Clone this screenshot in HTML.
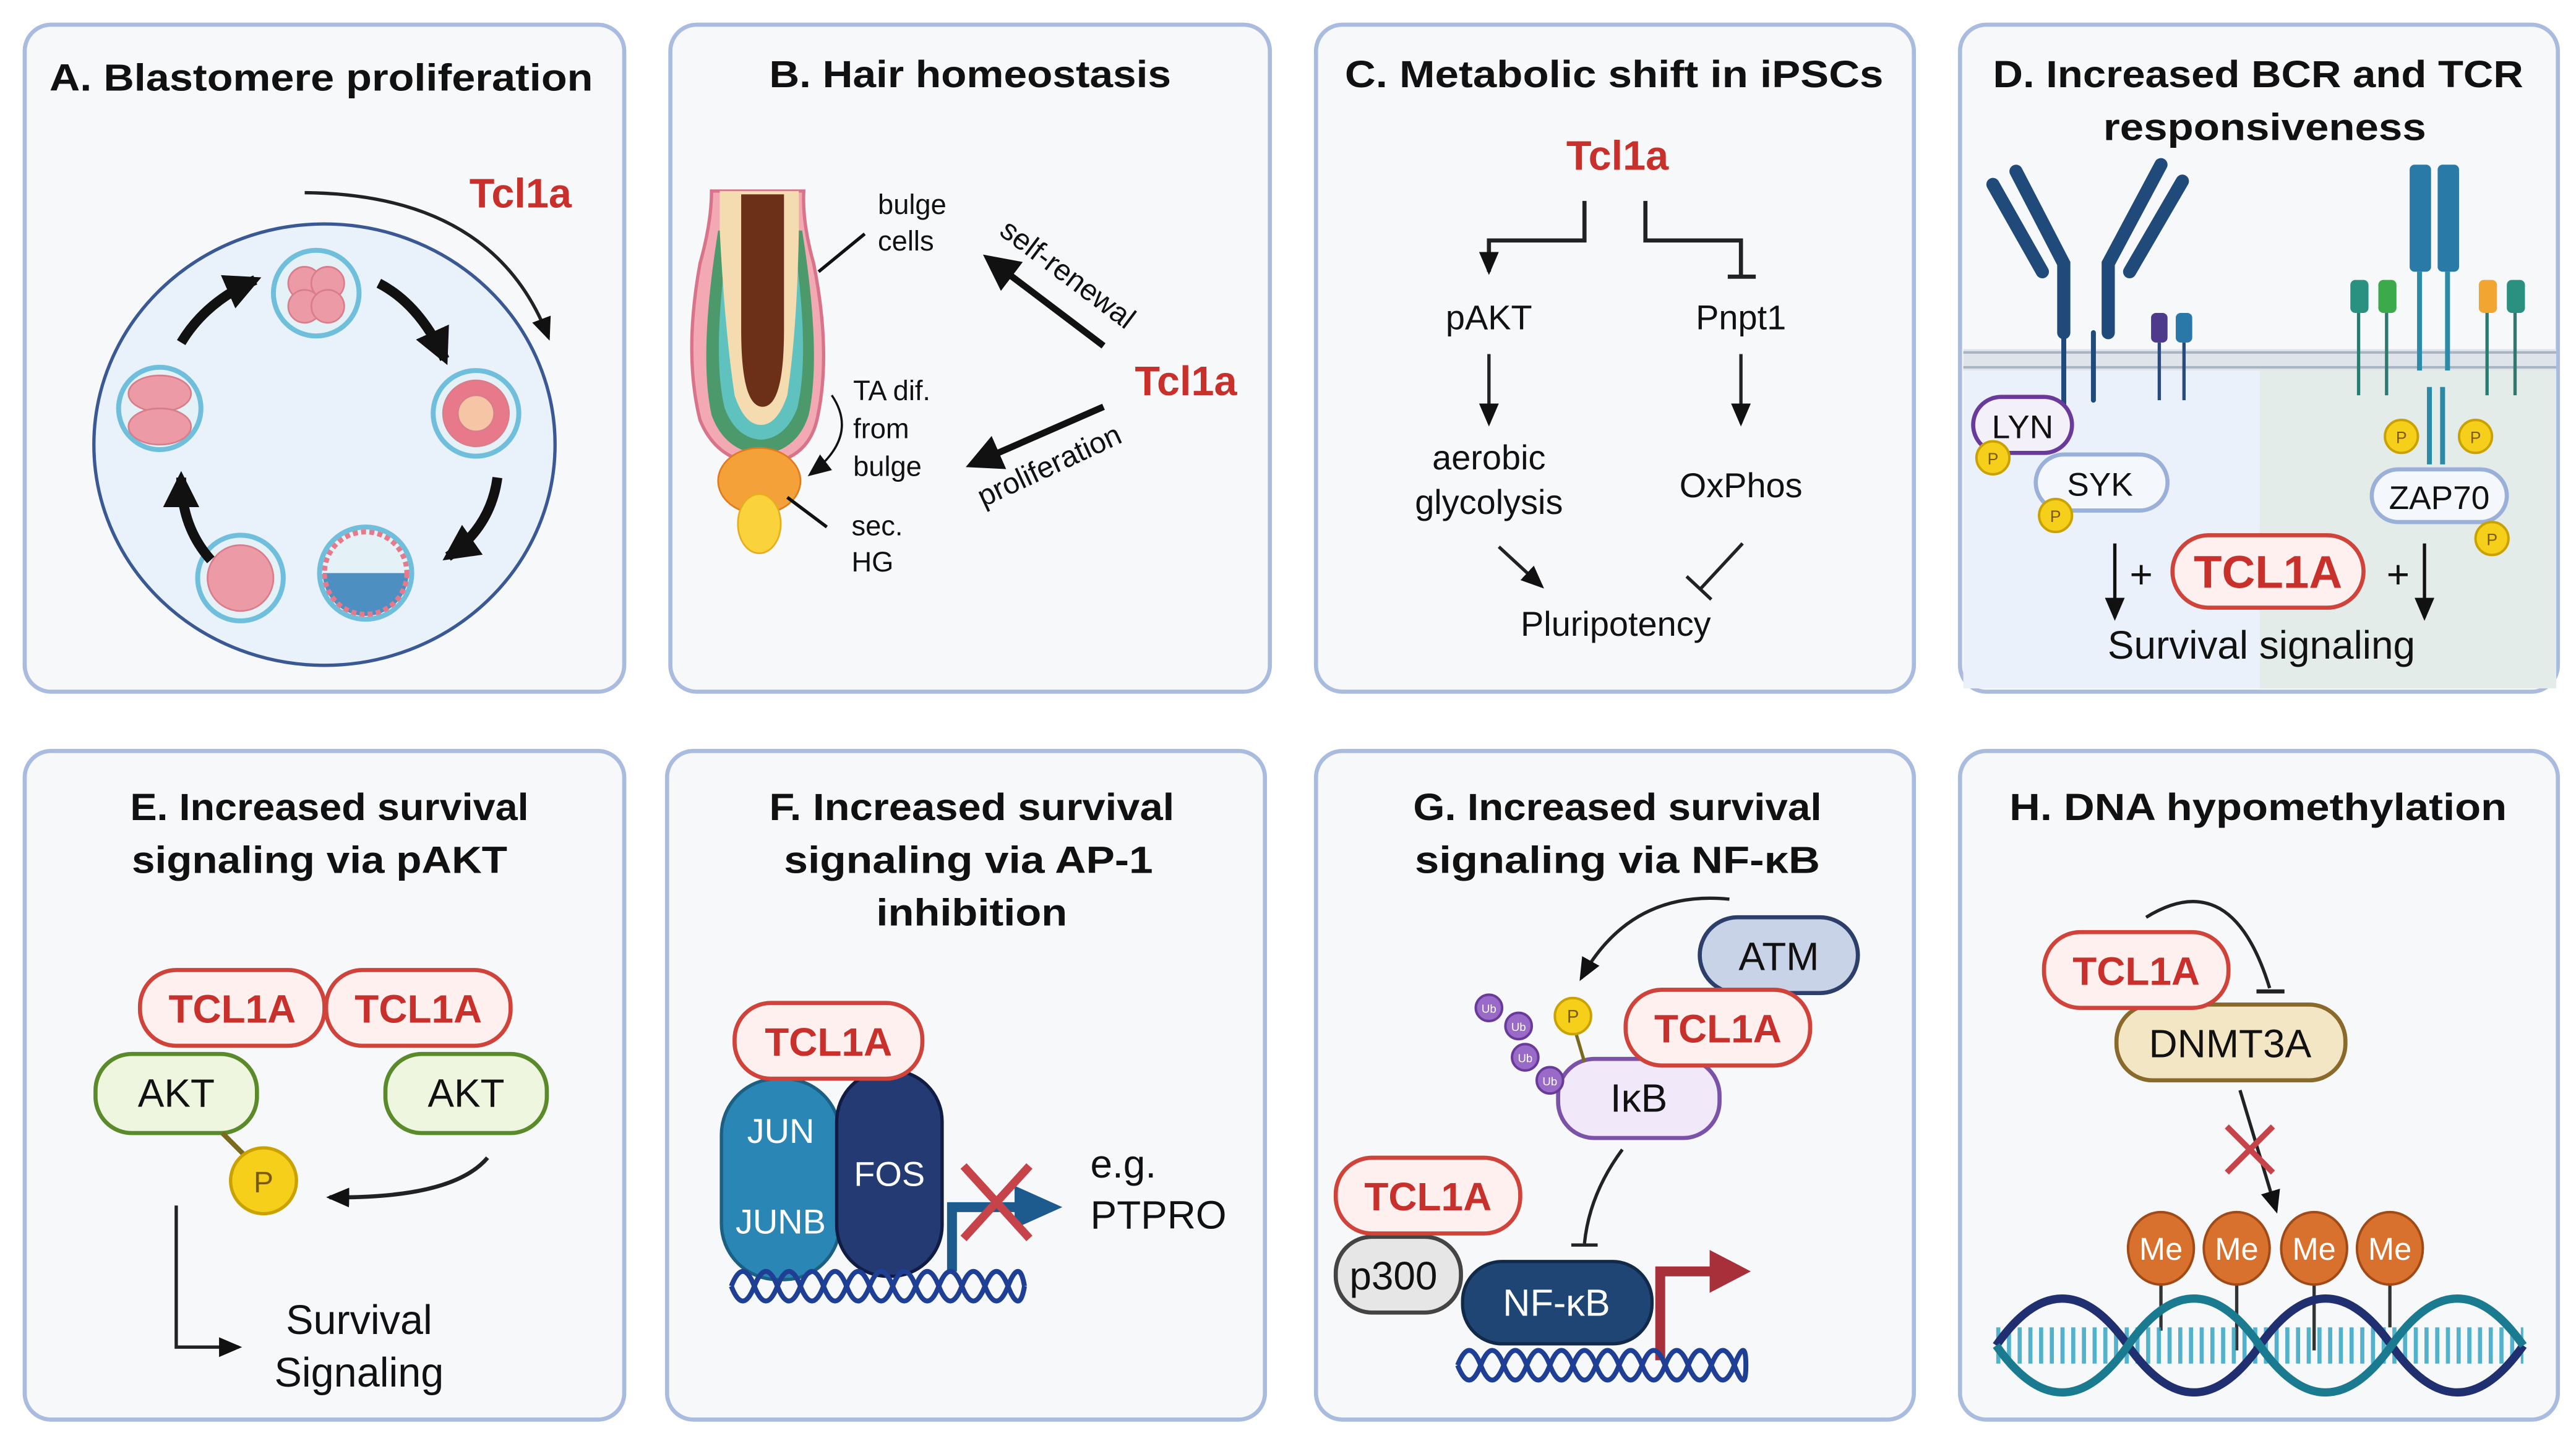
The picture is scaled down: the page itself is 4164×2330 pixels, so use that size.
<!DOCTYPE html>
<html><head><meta charset="utf-8"><style>
html,body{margin:0;padding:0;background:#fff}
svg{display:block}
text{font-family:"Liberation Sans",sans-serif}
.t{font-weight:bold;font-size:23px;fill:#111;text-anchor:middle}
.r{font-weight:bold;fill:#c8312b;text-anchor:middle}
.n{fill:#111;text-anchor:middle}
.w{fill:#fff;text-anchor:middle}
</style></head><body>
<svg width="4164" height="2330" viewBox="0 0 1564 875" preserveAspectRatio="none" font-size="20" xmlns="http://www.w3.org/2000/svg">
<defs>
<marker id="ah" markerUnits="userSpaceOnUse" markerWidth="16" markerHeight="16" refX="12" refY="8" orient="auto"><path d="M0,2 L14,8 L0,14 Z" fill="#111"/></marker>
<marker id="ahb" markerUnits="userSpaceOnUse" markerWidth="26" markerHeight="26" refX="18" refY="13" orient="auto"><path d="M0,2 L22,13 L0,24 Z" fill="#111"/></marker>
</defs>
<rect width="1564" height="875" fill="#fff"/>
<g fill="#f7f8fa" stroke="#a9bcdf" stroke-width="2.5">
<rect x="15" y="15" width="364" height="405" rx="16"/>
<rect x="407" y="15" width="364" height="405" rx="16"/>
<rect x="799" y="15" width="363" height="405" rx="16"/>
<rect x="1190" y="15" width="363" height="405" rx="16"/>
<rect x="15" y="456" width="364" height="406" rx="16"/>
<rect x="405" y="456" width="363" height="406" rx="16"/>
<rect x="799" y="456" width="363" height="406" rx="16"/>
<rect x="1190" y="456" width="363" height="406" rx="16"/>
</g>

<!-- A -->
<text class="t" x="195" y="55" textLength="330" lengthAdjust="spacingAndGlyphs">A. Blastomere proliferation</text>
<text class="r" x="316" y="126" font-size="25">Tcl1a</text>
<ellipse cx="197" cy="270" rx="140" ry="134" fill="#e9f1fb" stroke="#3a5894" stroke-width="2"/>
<path d="M185,117 Q300,118 333,205" fill="none" stroke="#222" stroke-width="2" marker-end="url(#ah)"/>
<g stroke="#6fbfdc" stroke-width="3" fill="#e4f2f8">
<circle cx="192" cy="178" r="26"/><circle cx="289" cy="251" r="26"/><circle cx="222" cy="348" r="28"/><circle cx="146" cy="351" r="26"/><circle cx="97" cy="248" r="25"/>
</g>
<g fill="#eb9aa6" stroke="#d97d8b" stroke-width="1">
<circle cx="185" cy="172" r="10"/><circle cx="199" cy="172" r="10"/><circle cx="185" cy="186" r="10"/><circle cx="199" cy="186" r="10"/>
<circle cx="289" cy="251" r="20" fill="#e8798b"/><circle cx="289" cy="251" r="11" fill="#f6c5a5"/>
<circle cx="146" cy="351" r="20"/>
<ellipse cx="97" cy="239" rx="19" ry="11"/><ellipse cx="97" cy="259" rx="19" ry="11"/>
</g>
<path d="M196,348 A26,26 0 0 0 248,348 Z" fill="#4d8fc0"/>
<circle cx="222" cy="348" r="25" fill="none" stroke="#e8798b" stroke-width="3" stroke-dasharray="3 2"/>
<g fill="none" stroke="#111" stroke-width="6" marker-end="url(#ahb)">
<path d="M110,208 Q125,183 155,170"/>
<path d="M230,172 Q255,185 270,218"/>
<path d="M302,290 Q298,320 272,338"/>
<path d="M128,340 Q110,320 110,290"/>
</g>

<!-- B -->
<text class="t" x="589" y="53" textLength="244" lengthAdjust="spacingAndGlyphs">B. Hair homeostasis</text>
<path d="M432,116 Q432,135 425,160 Q415,215 425,255 Q435,280 462,282 Q490,280 496,255 Q505,215 494,160 Q487,135 488,116 Z" fill="#f3a9b3" stroke="#d8738a" stroke-width="2"/>
<path d="M436,140 Q424,215 432,252 Q440,274 462,276 Q484,274 491,252 Q499,215 487,140 Z" fill="#4c9a6b"/>
<path d="M442,145 Q432,215 440,248 Q447,266 462,267 Q477,266 484,248 Q492,215 482,145 Z" fill="#5fc2be"/>
<path d="M437,116 L437,140 Q440,200 446,240 Q452,258 462,258 Q472,258 478,240 Q484,200 485,140 L485,116 Z" fill="#f4dcb0"/>
<path d="M450,118 L450,200 Q450,247 463,247 Q476,247 476,200 L476,118 Z" fill="#6b3017"/>
<ellipse cx="461" cy="292" rx="25" ry="20" fill="#f4a13a" stroke="#e07a1c" stroke-width="1"/>
<ellipse cx="461" cy="318" rx="13" ry="18" fill="#f9d23c" stroke="#e7ad1c" stroke-width="1"/>
<g font-size="17" fill="#111">
<text x="533" y="130">bulge</text><text x="533" y="152">cells</text>
<text x="518" y="243">TA dif.</text><text x="518" y="266">from</text><text x="518" y="289">bulge</text>
<text x="517" y="325">sec.</text><text x="517" y="347">HG</text>
</g>
<path d="M525,142 L497,165" stroke="#111" stroke-width="2"/>
<path d="M478,302 L502,320" stroke="#111" stroke-width="2"/>
<path d="M505,240 Q522,265 492,288" fill="none" stroke="#111" stroke-width="1.3" marker-end="url(#ah)"/>
<path d="M670,210 L600,157" stroke="#111" stroke-width="4" marker-end="url(#ahb)"/>
<path d="M670,247 L590,282" stroke="#111" stroke-width="4" marker-end="url(#ahb)"/>
<text x="606" y="142" font-size="18" fill="#111" transform="rotate(37 606 142)">self-renewal</text>
<text x="597" y="308" font-size="18" fill="#111" transform="rotate(-25 597 308)">proliferation</text>
<text class="r" x="720" y="240" font-size="25">Tcl1a</text>

<!-- C -->
<text class="t" x="980" y="53" textLength="327" lengthAdjust="spacingAndGlyphs">C. Metabolic shift in iPSCs</text>
<text class="r" x="982" y="103" font-size="25">Tcl1a</text>
<path d="M962,122 V146 H904 V165" fill="none" stroke="#222" stroke-width="2.5" marker-end="url(#ah)"/>
<path d="M999,122 V146 H1057 V168" fill="none" stroke="#222" stroke-width="2.5"/>
<path d="M1049,168 H1066" stroke="#222" stroke-width="2.5"/>
<text class="n" x="904" y="200" font-size="21">pAKT</text><text class="n" x="1057" y="200" font-size="21">Pnpt1</text>
<path d="M904,215 V257" stroke="#222" stroke-width="2" marker-end="url(#ah)"/>
<path d="M1057,215 V257" stroke="#222" stroke-width="2" marker-end="url(#ah)"/>
<text class="n" x="904" y="285" font-size="21">aerobic</text><text class="n" x="904" y="312" font-size="21">glycolysis</text>
<text class="n" x="1057" y="302" font-size="21">OxPhos</text>
<path d="M910,332 L936,356" stroke="#222" stroke-width="2" marker-end="url(#ah)"/>
<path d="M1058,330 L1032,358" stroke="#222" stroke-width="2"/>
<path d="M1024,350 L1039,364" stroke="#222" stroke-width="2"/>
<text class="n" x="981" y="386" font-size="21">Pluripotency</text>

<!-- D -->
<text class="t" x="1371" y="53" textLength="322" lengthAdjust="spacingAndGlyphs">D. Increased BCR and TCR</text>
<text class="t" x="1375" y="85" textLength="196" lengthAdjust="spacingAndGlyphs">responsiveness</text>
<rect x="1192" y="225" width="180" height="193" fill="#eaf1fa"/>
<rect x="1372" y="225" width="180" height="193" fill="#e4ece9"/>
<rect x="1192" y="212" width="360" height="13" fill="#dfe4ea"/>
<path d="M1192,214 H1552 M1192,223 H1552" stroke="#a9b4c2" stroke-width="1.5"/>
<g stroke="#1f4a7a" stroke-linecap="round" fill="none">
<path d="M1210,112 L1240,165" stroke-width="8"/>
<path d="M1224,104 L1253,160 L1253,202" stroke-width="8"/>
<path d="M1325,110 L1293,165" stroke-width="8"/>
<path d="M1312,100 L1280,160 L1280,202" stroke-width="8"/>
<path d="M1253,202 V250 M1271,202 V243" stroke-width="3"/>
</g>
<rect x="1306" y="190" width="10" height="18" rx="3" fill="#4d3a8a"/>
<rect x="1321" y="190" width="10" height="18" rx="3" fill="#2a78a8"/>
<path d="M1311,208 V243 M1326,208 V243" stroke="#2a4a7a" stroke-width="2"/>
<g fill="#2a7aa8"><rect x="1463" y="100" width="13" height="65" rx="3"/><rect x="1480" y="100" width="13" height="65" rx="3"/></g>
<path d="M1469,165 V225 M1486,165 V225 M1475,235 V282 M1483,235 V282" stroke="#2a8aa8" stroke-width="3"/>
<rect x="1427" y="170" width="11" height="20" rx="3" fill="#2a9080"/><rect x="1444" y="170" width="11" height="20" rx="3" fill="#3aaa4a"/><rect x="1505" y="170" width="11" height="20" rx="3" fill="#f2a530"/><rect x="1522" y="170" width="11" height="20" rx="3" fill="#2a9080"/>
<path d="M1432,190 V240 M1449,190 V240 M1510,190 V240 M1527,190 V240" stroke="#2a7a70" stroke-width="2"/>
<rect x="1198" y="241" width="60" height="34" rx="17" fill="#f4f0fa" stroke="#6a3a9a" stroke-width="2.5"/>
<text class="n" x="1228" y="266">LYN</text>
<rect x="1236" y="276" width="80" height="34" rx="17" fill="#f4f7fc" stroke="#9ab0d8" stroke-width="2.5"/>
<text class="n" x="1275" y="301">SYK</text>
<rect x="1440" y="285" width="82" height="32" rx="16" fill="#f4f7fc" stroke="#9ab0d8" stroke-width="2.5"/>
<text class="n" x="1481" y="309">ZAP70</text>
<g fill="#f5cf1a" stroke="#c9a200" stroke-width="1.5">
<circle cx="1210" cy="278" r="10"/><circle cx="1248" cy="313" r="10"/><circle cx="1458" cy="265" r="10"/><circle cx="1503" cy="265" r="10"/><circle cx="1513" cy="327" r="10"/>
</g>
<g font-size="10" fill="#7a5a00" text-anchor="middle"><text x="1210" y="282">P</text><text x="1248" y="317">P</text><text x="1458" y="269">P</text><text x="1503" y="269">P</text><text x="1513" y="331">P</text></g>
<path d="M1284,330 V375" stroke="#111" stroke-width="2" marker-end="url(#ah)"/>
<path d="M1472,330 V375" stroke="#111" stroke-width="2" marker-end="url(#ah)"/>
<text x="1300" y="357" font-size="24" fill="#111" text-anchor="middle">+</text>
<text x="1456" y="357" font-size="24" fill="#111" text-anchor="middle">+</text>
<rect x="1319" y="325" width="116" height="44" rx="22" fill="#fdf0ee" stroke="#d0433a" stroke-width="2.5"/>
<text class="r" x="1377" y="357" font-size="28">TCL1A</text>
<text x="1373" y="400" font-size="24" fill="#111" text-anchor="middle">Survival signaling</text>

<!-- E -->
<text class="t" x="200" y="498" textLength="242" lengthAdjust="spacingAndGlyphs">E. Increased survival</text>
<text class="t" x="194" y="530" textLength="228" lengthAdjust="spacingAndGlyphs">signaling via pAKT</text>
<g fill="#eef6df" stroke="#5a8a2a" stroke-width="2.5"><rect x="58" y="640" width="98" height="48" rx="22"/><rect x="234" y="640" width="98" height="48" rx="22"/></g>
<text class="n" x="107" y="672" font-size="24">AKT</text><text class="n" x="283" y="672" font-size="24">AKT</text>
<g fill="#fdf0ee" stroke="#d0433a" stroke-width="2.5"><rect x="85" y="589" width="112" height="46" rx="22"/><rect x="198" y="589" width="112" height="46" rx="22"/></g>
<text class="r" x="141" y="621" font-size="24">TCL1A</text><text class="r" x="254" y="621" font-size="24">TCL1A</text>
<path d="M135,688 L152,705" stroke="#7a6a20" stroke-width="3"/>
<circle cx="160" cy="717" r="20" fill="#f5cf1a" stroke="#c9a200" stroke-width="2"/>
<text x="160" y="724" font-size="18" fill="#7a5a00" text-anchor="middle">P</text>
<path d="M296,703 Q275,728 200,727" fill="none" stroke="#222" stroke-width="2.5" marker-end="url(#ah)"/>
<path d="M107,732 V818 H145" fill="none" stroke="#222" stroke-width="2" marker-end="url(#ah)"/>
<text class="n" x="218" y="810" font-size="25">Survival</text><text class="n" x="218" y="842" font-size="25">Signaling</text>

<!-- F -->
<text class="t" x="590" y="498" textLength="246" lengthAdjust="spacingAndGlyphs">F. Increased survival</text>
<text class="t" x="588" y="530" textLength="224" lengthAdjust="spacingAndGlyphs">signaling via AP-1</text>
<text class="t" x="590" y="562" textLength="116" lengthAdjust="spacingAndGlyphs">inhibition</text>
<rect x="438" y="655" width="72" height="122" rx="34" fill="#2a86b5" stroke="#1b5f82" stroke-width="2"/>
<rect x="508" y="650" width="64" height="125" rx="31" fill="#243a72" stroke="#111c44" stroke-width="2"/>
<rect x="446" y="609" width="114" height="46" rx="22" fill="#fdf0ee" stroke="#d0433a" stroke-width="2.5"/>
<text class="r" x="503" y="641" font-size="24">TCL1A</text>
<text class="w" x="474" y="694" font-size="21">JUN</text><text class="w" x="474" y="749" font-size="21">JUNB</text><text class="w" x="540" y="720" font-size="21">FOS</text>
<path d="M578,772 V733 H618" fill="none" stroke="#1d5b8e" stroke-width="6"/>
<path d="M616,720 L645,733 L616,746 Z" fill="#1d5b8e"/>
<path d="M585,708 L625,752 M625,708 L585,752" stroke="#c7434a" stroke-width="5"/>
<g fill="none" stroke="#1e3f94" stroke-width="3">
<path d="M444,781 Q451,763 458,781 T472,781 T486,781 T500,781 T514,781 T528,781 T542,781 T556,781 T570,781 T584,781 T598,781 T612,781 T622,781"/>
<path d="M444,781 Q451,799 458,781 T472,781 T486,781 T500,781 T514,781 T528,781 T542,781 T556,781 T570,781 T584,781 T598,781 T612,781 T622,781"/>
</g>
<text x="662" y="715" font-size="24" fill="#111">e.g.</text><text x="662" y="746" font-size="24" fill="#111">PTPRO</text>

<!-- G -->
<text class="t" x="982" y="498" textLength="248" lengthAdjust="spacingAndGlyphs">G. Increased survival</text>
<text class="t" x="982" y="530" textLength="246" lengthAdjust="spacingAndGlyphs">signaling via NF-κB</text>
<rect x="1032" y="557" width="96" height="46" rx="23" fill="#c9d3e8" stroke="#2d3e6b" stroke-width="2.5"/>
<text class="n" x="1080" y="589" font-size="24">ATM</text>
<rect x="946" y="643" width="98" height="48" rx="22" fill="#f1e8fa" stroke="#7a52a8" stroke-width="2.5"/>
<text class="n" x="995" y="675" font-size="24">IκB</text>
<rect x="987" y="601" width="112" height="46" rx="22" fill="#fdf0ee" stroke="#d0433a" stroke-width="2.5"/>
<text class="r" x="1043" y="633" font-size="24">TCL1A</text>
<path d="M957,628 L962,645" stroke="#7a6a20" stroke-width="2"/>
<circle cx="955" cy="617" r="11" fill="#f5cf1a" stroke="#c9a200" stroke-width="1.5"/>
<text x="955" y="621" font-size="11" fill="#7a5a00" text-anchor="middle">P</text>
<g fill="#9a6ac8" stroke="#6a3a9a" stroke-width="1.5"><circle cx="904" cy="612" r="8"/><circle cx="922" cy="623" r="8"/><circle cx="926" cy="642" r="8"/><circle cx="941" cy="656" r="8"/></g>
<g font-size="7" fill="#fff" text-anchor="middle"><text x="904" y="615">Ub</text><text x="922" y="626">Ub</text><text x="926" y="645">Ub</text><text x="941" y="659">Ub</text></g>
<path d="M1050,546 Q990,540 960,594" fill="none" stroke="#222" stroke-width="2" marker-end="url(#ah)"/>
<path d="M985,698 Q965,725 962,755" fill="none" stroke="#222" stroke-width="2"/>
<path d="M954,756 H970" stroke="#222" stroke-width="2"/>
<rect x="811" y="751" width="76" height="46" rx="22" fill="#e6e6e6" stroke="#444" stroke-width="2.5"/>
<text class="n" x="846" y="783" font-size="24">p300</text>
<rect x="811" y="703" width="112" height="46" rx="22" fill="#fdf0ee" stroke="#d0433a" stroke-width="2.5"/>
<text class="r" x="867" y="735" font-size="24">TCL1A</text>
<rect x="888" y="766" width="115" height="50" rx="24" fill="#1f4575" stroke="#112a4a" stroke-width="2"/>
<text class="w" x="945" y="799" font-size="23">NF-κB</text>
<path d="M1008,826 V772 H1040" fill="none" stroke="#a8303a" stroke-width="6"/>
<path d="M1038,759 L1063,772 L1038,785 Z" fill="#a8303a"/>
<g fill="none" stroke="#1e3f94" stroke-width="3">
<path d="M885,829 Q892,811 899,829 T913,829 T927,829 T941,829 T955,829 T969,829 T983,829 T997,829 T1011,829 T1025,829 T1039,829 T1053,829 T1060,829"/>
<path d="M885,829 Q892,847 899,829 T913,829 T927,829 T941,829 T955,829 T969,829 T983,829 T997,829 T1011,829 T1025,829 T1039,829 T1053,829 T1060,829"/>
</g>

<!-- H -->
<text class="t" x="1371" y="498" textLength="302" lengthAdjust="spacingAndGlyphs">H. DNA hypomethylation</text>
<rect x="1285" y="610" width="139" height="46" rx="22" fill="#f2e6c4" stroke="#8a6a2a" stroke-width="2.5"/>
<text class="n" x="1354" y="642" font-size="24">DNMT3A</text>
<rect x="1241" y="566" width="112" height="46" rx="22" fill="#fdf0ee" stroke="#d0433a" stroke-width="2.5"/>
<text class="r" x="1297" y="598" font-size="24">TCL1A</text>
<path d="M1303,557 Q1355,525 1378,600" fill="none" stroke="#222" stroke-width="2"/>
<path d="M1370,602 H1387" stroke="#222" stroke-width="2.5"/>
<path d="M1360,662 L1382,735" stroke="#222" stroke-width="2" marker-end="url(#ah)"/>
<path d="M1352,684 L1380,712 M1380,684 L1352,712" stroke="#c7434a" stroke-width="3.5"/>
<path d="M1312,780 V808 M1358,780 V820 M1405,780 V820 M1451,780 V806" stroke="#333" stroke-width="2"/>
<g fill="#d9712e" stroke="#a04a18" stroke-width="1.5"><ellipse cx="1312" cy="758" rx="20" ry="22"/><ellipse cx="1358" cy="758" rx="20" ry="22"/><ellipse cx="1405" cy="758" rx="20" ry="22"/><ellipse cx="1451" cy="758" rx="20" ry="22"/></g>
<g class="w" font-size="19"><text x="1312" y="765">Me</text><text x="1358" y="765">Me</text><text x="1405" y="765">Me</text><text x="1451" y="765">Me</text></g>
<path d="M1212,817 H1532" stroke="#2aa0c0" stroke-width="22" stroke-dasharray="2.5 4" opacity="0.8"/>
<g fill="none" stroke-width="5">
<path d="M1212,817 Q1252,760 1292,817 T1372,817 T1452,817 T1532,817" stroke="#1f2f70"/>
<path d="M1212,817 Q1252,874 1292,817 T1372,817 T1452,817 T1532,817" stroke="#1a7a90"/>
</g>
</svg>
</body></html>
